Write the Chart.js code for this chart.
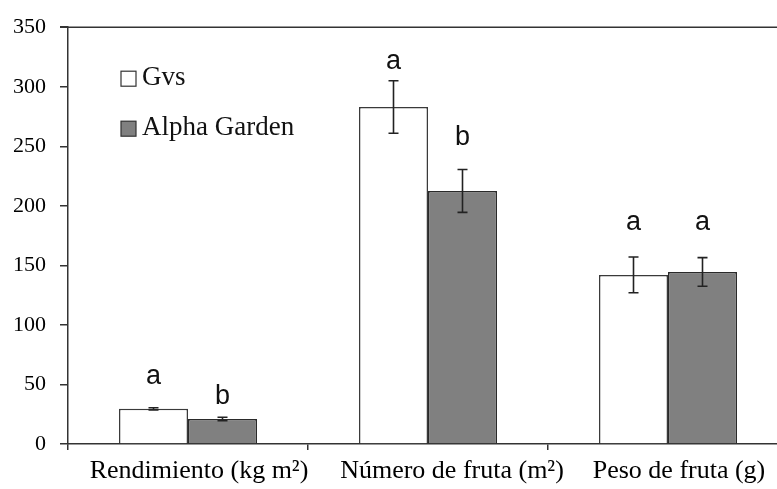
<!DOCTYPE html>
<html lang="es">
<head>
    <meta charset="UTF-8">
    <title>Rendimiento Gvs vs Alpha Garden</title>
    <script src="https://cdn.jsdelivr.net/npm/chart.js@4.4.0/dist/chart.umd.min.js"></script>
    <style>
        body {
            margin: 0;
            background: #fff;
            overflow: hidden;
        }
        #wrap {
            width: 800px;
            height: 489px;
        }
    </style>
</head>
<body>
    <div id="wrap"><canvas id="chart" width="800" height="489"></canvas></div>

    <script>
        // datos
        const categories = ['Rendimiento (kg m²)', 'Número de fruta (m²)', 'Peso de fruta (g)'];
        const seriesNames = ['Gvs', 'Alpha Garden'];
        const gvsValues = [29.5, 283, 142];
        const alphaValues = [21, 212.5, 144.5];
        const gvsErrors = [1, 22, 15];
        const alphaErrors = [1.5, 18, 12];
        // letras de significancia y altura (en unidades del eje y) de su linea base
        const gvsLetters = ['a', 'a', 'a'];
        const alphaLetters = ['b', 'b', 'a'];
        const gvsLetterAt = [50.5, 315, 180];
        const alphaLetterAt = [34, 251, 180];
        const yTicks = [0, 50, 100, 150, 200, 250, 300, 350];

        const errors = [gvsErrors, alphaErrors];
        const letters = [gvsLetters, alphaLetters];
        const letterAt = [gvsLetterAt, alphaLetterAt];

        // barras de error + letras
        const errorBars = {
            id: 'errorBars',
            afterDatasetsDraw(chart) {
                const { ctx } = chart;
                const y = chart.scales.y;
                chart.data.datasets.forEach((ds, i) => {
                    const meta = chart.getDatasetMeta(i);
                    meta.data.forEach((bar, j) => {
                        const v = ds.data[j];
                        const e = errors[i][j];
                        const top = y.getPixelForValue(v + e);
                        const bot = y.getPixelForValue(v - e);
                        ctx.save();
                        ctx.strokeStyle = '#222';
                        ctx.lineWidth = 1.6;
                        ctx.beginPath();
                        ctx.moveTo(bar.x, top);
                        ctx.lineTo(bar.x, bot);
                        ctx.moveTo(bar.x - 5, top);
                        ctx.lineTo(bar.x + 5, top);
                        ctx.moveTo(bar.x - 5, bot);
                        ctx.lineTo(bar.x + 5, bot);
                        ctx.stroke();
                        ctx.fillStyle = '#111';
                        ctx.font = '27px "Liberation Sans", Arial, sans-serif';
                        ctx.textAlign = 'center';
                        ctx.textBaseline = 'alphabetic';
                        ctx.fillText(letters[i][j], bar.x, y.getPixelForValue(letterAt[i][j]));
                        ctx.restore();
                    });
                });
            }
        };

        // marco superior y leyenda dentro del area
        const frameLegend = {
            id: 'frameLegend',
            afterDraw(chart) {
                const { ctx, chartArea } = chart;
                ctx.save();
                ctx.strokeStyle = '#333';
                ctx.lineWidth = 1.5;
                ctx.beginPath();
                ctx.moveTo(chartArea.left - 8, chartArea.top);
                ctx.lineTo(chartArea.right, chartArea.top);
                ctx.stroke();

                const x0 = chartArea.left + 53;
                const rows = [chartArea.top + 51, chartArea.top + 101];
                chart.data.datasets.forEach((ds, i) => {
                    const cy = rows[i];
                    ctx.fillStyle = ds.backgroundColor;
                    ctx.fillRect(x0, cy - 7, 15, 15);
                    ctx.strokeStyle = '#333';
                    ctx.lineWidth = 1.2;
                    ctx.strokeRect(x0, cy - 7, 15, 15);
                    ctx.fillStyle = '#111';
                    ctx.font = '27px "Liberation Serif", "Times New Roman", serif';
                    ctx.textAlign = 'left';
                    ctx.textBaseline = 'middle';
                    ctx.fillText(ds.label, x0 + 21, cy);
                });
                ctx.restore();
            }
        };

        new Chart(document.getElementById('chart'), {
            type: 'bar',
            data: {
                labels: categories,
                datasets: [{
                    label: seriesNames[0],
                    data: gvsValues,
                    backgroundColor: '#ffffff',
                    borderColor: '#3a3a3a',
                    borderWidth: 1.5
                }, {
                    label: seriesNames[1],
                    data: alphaValues,
                    backgroundColor: '#808080',
                    borderColor: '#2a2a2a',
                    borderWidth: 1.5
                }]
            },
            options: {
                responsive: false,
                animation: false,
                categoryPercentage: 0.575,
                barPercentage: 1,
                layout: {
                    padding: { top: 23, right: 12, left: 0, bottom: 0 }
                },
                plugins: {
                    legend: { display: false },
                    tooltip: { enabled: false }
                },
                scales: {
                    x: {
                        grid: {
                            offset: true,
                            drawOnChartArea: false,
                            color: '#333',
                            tickLength: 6,
                            lineWidth: 1.5
                        },
                        border: { color: '#333', width: 1.5 },
                        ticks: {
                            color: '#000',
                            maxRotation: 0,
                            autoSkip: false,
                            labelOffset: 11,
                            padding: 6,
                            // la etiqueta central esta algo desplazada a la derecha en el original
                            callback(value, index) {
                                const txt = categories[index];
                                return index === 1 ? '\u2002\u2002' + txt : txt;
                            },
                            font: { family: '"Liberation Serif", "Times New Roman", serif', size: 26 }
                        },
                        afterFit(scale) { scale.height = 45; }
                    },
                    y: {
                        min: 0,
                        max: 350,
                        afterBuildTicks(scale) {
                            scale.ticks = yTicks.map(v => ({ value: v }));
                        },
                        grid: {
                            drawOnChartArea: false,
                            color: '#333',
                            tickLength: 8,
                            lineWidth: 1.5
                        },
                        border: { color: '#333', width: 1.5 },
                        ticks: {
                            color: '#000',
                            padding: 14,
                            font: { family: '"Liberation Serif", "Times New Roman", serif', size: 22 }
                        },
                        afterFit(scale) { scale.width = 68; }
                    }
                }
            },
            plugins: [errorBars, frameLegend]
        });
    </script>
</body>
</html>
